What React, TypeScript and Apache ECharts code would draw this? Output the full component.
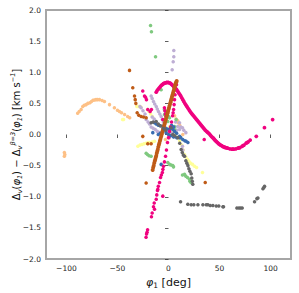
import React, { useEffect, useRef } from "react";
import * as echarts from "echarts";

// Accent palette colours per stream
const orangePts: number[][] = [
  [-102, -0.29], [-102, -0.35], [-101.5, -0.32],
  [-89, 0.34], [-87.5, 0.37], [-85.6, 0.4], [-84, 0.45], [-82.5, 0.47], [-80.7, 0.48], [-79, 0.5], [-77, 0.51],
  [-75.5, 0.53], [-74, 0.55], [-72.5, 0.555], [-71, 0.56], [-69.5, 0.56], [-67.6, 0.56], [-65, 0.545], [-62.7, 0.53],
  [-57.8, 0.48], [-53, 0.43], [-50, 0.39], [-48, 0.37], [-46, 0.35], [-43, 0.32], [-40, 0.29], [-38, 0.27],
  [6, 0.3], [7.5, 0.25], [9.1, 0.22], [9.5, 0.19], [11, 0.15], [2, 0.02], [-3, -0.08], [14, 0.0],
];

const yellowPts: number[][] = [
  [-45, 0.24], [-44, 0.24], [-31, 0.45], [-29.5, 0.45], [-28, 0.45], [-27, 0.44],
  [-20.6, 0.4], [-19, 0.37], [-17.5, 0.33], [-15.7, 0.29],
  [-30, -0.19], [-28, -0.17], [-26, -0.16], [-24, -0.15], [-22, -0.14], [-20, -0.13], [-18.6, -0.13], [-16, -0.12], [-13.7, -0.11],
  [1, 0.13], [3, 0.1], [5, 0.05], [7, 0.0], [9, -0.05], [11, -0.1], [13, -0.17], [14.5, -0.25], [15.7, -0.32],
  [17, -0.36], [18.6, -0.4], [20, -0.43], [21.5, -0.46], [23.5, -0.48], [25.5, -0.51], [27.5, -0.53], [33.3, -0.61],
];

const purplePts: number[][] = [
  [5.2, 1.35], [5.2, 1.25], [4.6, 1.17], [3.6, 1.04],
  [-17, 0.62], [-16, 0.58], [-14.7, 0.53], [-13.5, 0.49], [-12, 0.45], [-11, 0.41], [-9.8, 0.37], [-8.5, 0.33],
  [-7.2, 0.29], [-6, 0.24], [-5, 0.2], [-4, 0.16], [-3, 0.11], [-2.3, 0.05],
  [-28, 0.45], [-26.8, 0.43], [-25, 0.38], [-23, 0.33], [-21.9, 0.24], [-20, 0.2], [-18.6, 0.17],
  [-17, 0.12], [-15, 0.1], [-13, 0.08], [-11, 0.05], [-9, 0.03], [1, -0.05], [3, 0.02], [6, 0.05], [8, 0.07],
  [10.8, 0.08], [10.8, 0.19], [9, 0.13], [7, 0.2], [12, 0.12], [13.7, 0.11], [15, 0.07], [17, 0.03],
  [13.7, -0.19], [14, -0.25], [15.7, -0.35], [-16, 0.28], [-14, 0.25],
];

const greenPts: number[][] = [
  [-17.6, 1.75], [-16.7, 1.65], [-12.7, 1.25], [-7.2, 0.72],
  [-4, 0.4], [-3, 0.37], [-2, 0.34], [-1, 0.31], [0, 0.29], [1, 0.27],
  [-3.9, 0.32], [-0.7, 0.21], [5.9, 0.13], [5.9, 0.08], [4, 0.1], [7.5, 0.24],
  [-21.9, -0.3], [-20.6, -0.32], [-19, -0.34], [-17, -0.35],
  [-0.7, -0.45], [1, -0.48], [2.5, -0.49], [4.2, -0.5], [4.9, -0.52],
  [13.7, -0.65], [15.7, -0.64], [17, -0.67], [18.6, -0.69], [20.6, -0.72], [21, -0.75], [22, -0.77],
];

const bluePts: number[][] = [
  [-15.4, 0.03], [-13.7, 0.19], [-12, 0.17], [-10, 0.15], [-8, 0.14], [-5.6, 0.13], [-3, 0.1], [-1, 0.09],
  [1, 0.08], [4.2, 0.08], [6, 0.05], [8, 0.02], [10.8, -0.03], [12, -0.05], [14, -0.08], [16, -0.1],
  [17.3, -0.11], [19, -0.13], [-7.2, -0.48], [-2.3, 0.03], [0, 0.0], [2, -0.02], [5, -0.04], [8, -0.05],
  [10.8, -0.05], [-10, 0.0], [-8, 0.02], [3, 0.15], [5, 0.12],
];

const pinkCurve: number[][] = [
  [-12, 0.68], [-11, 0.71], [-10, 0.73], [-9, 0.75], [-8, 0.77], [-7, 0.79], [-6, 0.8], [-5, 0.815], [-4, 0.825],
  [-3, 0.83], [-2, 0.835], [-1, 0.838], [0, 0.835], [1, 0.83], [2, 0.82], [3, 0.805], [4, 0.79], [5, 0.775],
  [6, 0.76], [7, 0.74], [8, 0.72], [9, 0.695], [10, 0.67], [11, 0.645], [12, 0.62], [13, 0.59], [14, 0.56],
  [15, 0.53], [16, 0.5], [17, 0.475], [18, 0.45], [19, 0.425], [20, 0.4], [21, 0.375], [22, 0.35], [23, 0.33],
  [24, 0.31], [25, 0.29], [26, 0.27], [27, 0.25], [28, 0.23], [29, 0.21], [30, 0.19], [31, 0.17], [32, 0.15],
  [33, 0.13], [34, 0.11], [35, 0.09], [36, 0.07], [37, 0.055], [38, 0.04], [39, 0.025], [40, 0.01], [41, -0.01],
  [42, -0.03], [43, -0.045], [44, -0.06], [45, -0.08], [46, -0.1], [47, -0.115], [48, -0.13], [49, -0.145],
  [50, -0.16], [51, -0.17], [52, -0.18], [53, -0.19], [54, -0.2], [55, -0.205], [56, -0.21], [57, -0.215],
  [58, -0.22], [60, -0.23], [62, -0.235], [63, -0.235], [64, -0.235], [66, -0.23], [68, -0.22], [69, -0.215],
  [70, -0.21], [72, -0.19], [73, -0.18], [74, -0.17], [76, -0.14], [77, -0.13], [78, -0.12], [80, -0.09],
  [86, -0.03], [94, 0.11], [102, 0.24],
];

const pinkStream: number[][] = [
  [-22, -1.65], [-21.5, -1.6], [-21, -1.57], [-20.5, -1.53],
  [-16.7, -1.32], [-16, -1.26], [-14.7, -1.16], [-14, -1.1], [-13.7, -1.2], [-12, -1.04], [-11.5, -0.97],
  [-10.8, -0.9], [-10.5, -0.88], [-10, -0.83], [-8.8, -0.77], [-7.8, -0.69], [-7, -0.65], [-6, -0.61],
  [-5.6, -0.99], [-5.5, -0.56], [-4.9, -0.51], [-4, -0.44], [-2.9, -0.35], [-2, -0.25], [-1, -0.13],
  [0, -0.05], [1, 0.05], [2, 0.12], [3, 0.2], [4, 0.3], [4.5, 0.35], [5, 0.4], [5.5, 0.48], [5.9, 0.56],
  [6.4, 0.64], [6.9, 0.72], [7.8, 0.8],
  [-25.2, 0.7], [-23.5, 0.62], [-22.5, 0.6], [-21.6, 0.56], [-20.3, 0.4], [-18, 0.37], [-16.7, 0.4],
  [-5.6, 0.24], [-4, 0.43], [-3.5, 0.38], [-3, 0.33], [-2.5, 0.29], [35, -0.08],
];

const brownLine: number[][] = [
  [-15.5, -0.57], [-15, -0.53], [-14.5, -0.5], [-14, -0.46], [-13.5, -0.43], [-13, -0.4], [-12.5, -0.37],
  [-12, -0.34], [-11.5, -0.3], [-11, -0.27], [-10.5, -0.24], [-10, -0.2], [-9.5, -0.17], [-9, -0.14],
  [-8.5, -0.11], [-8, -0.08], [-7.5, -0.05], [-7, -0.02], [-6.5, 0.01], [-6, 0.04], [-5.5, 0.07], [-5, 0.1],
  [-4.5, 0.13], [-4, 0.16], [-3.5, 0.19], [-3, 0.22], [-2.5, 0.25], [-2, 0.28], [-1.5, 0.31], [-1, 0.34],
  [-0.5, 0.37], [0, 0.4], [0.5, 0.43], [1, 0.46], [1.5, 0.49], [2, 0.52], [2.5, 0.55], [3, 0.58], [3.5, 0.61],
  [4, 0.64], [4.5, 0.67], [5, 0.7], [5.5, 0.73], [6, 0.76], [6.5, 0.79], [7, 0.82], [7.5, 0.84], [8, 0.86],
];

const brownPts: number[][] = [
  [-38.2, 1.03], [-35, 0.75], [-33.3, 0.62], [-32.6, 0.56], [-32, 0.5], [-30.7, 0.35], [-29.1, 0.31],
  [-26.8, 0.29], [-24.5, 0.28], [-21.9, 0.27], [-25.2, -0.03], [-20.3, -0.15], [-17, -0.15],
  [-21.9, -0.78], [36, -0.77],
];

const grayPts: number[][] = [
  [-17, 0.19], [-15, 0.2], [-12, 0.21], [-10, 0.17], [-8, 0.14], [-5, 0.1], [-3, 0.07], [2.6, 0.11],
  [4.2, 0.0], [6, -0.02], [9.1, -0.05], [11, -0.14], [12.4, -0.24], [13.5, -0.29], [14.5, -0.33],
  [15.7, -0.35], [17, -0.42], [18, -0.46], [19, -0.5], [20, -0.55], [21, -0.59], [22.2, -0.63],
  [22.8, -0.7], [23.3, -0.75], [23.8, -0.8],
  [11.8, -1.08], [18.9, -1.12], [22.2, -1.13], [24.8, -1.13], [28.8, -1.13], [33.7, -1.13], [37, -1.13],
  [38.6, -1.13], [40.9, -1.14], [43.5, -1.14], [46.8, -1.15], [49.3, -1.15], [53.3, -1.16], [53.9, -1.16],
  [67, -1.18], [69, -1.18], [70.6, -1.18], [72.2, -1.18], [84.3, -1.08], [86.6, -1.03], [87.6, -1.02],
  [92.5, -0.87], [93.4, -0.85], [94.1, -0.83],
];

const xTicks = [-100, -50, 0, 50, 100];
const yMin = -2;
const yMax = 2;
const yStep = 0.5;
const yTitle = "{m|Δ}{s|v}{m|(}{i|φ}{s|1}{m|) − Δ}{s|v}{p|β=3}{m|(}{i|φ}{s|1}{m|) [km s}{p|−1}{m|]}";
const xTitle = "{i|φ}{s|1}{m| [deg]}";

const fmt = (v: number, d: number) => v.toFixed(d).replace("-", "\u2212");

export default function App() {
  const ref = useRef<HTMLDivElement>(null);
  useEffect(() => {
    if (!ref.current) return;
    const chart = echarts.init(ref.current, null, { renderer: "svg" });
    const font = "DejaVu Sans";
    const mk = (data: number[][], color: string, size = 3.5) => ({
      type: "scatter",
      data,
      symbol: "circle",
      symbolSize: size,
      itemStyle: { color, opacity: 1 },
      silent: true,
    });
    const richY = {
      m: { fontSize: 10, fontFamily: font, fill: "#111", lineHeight: 14, verticalAlign: "middle" },
      i: { fontSize: 10, fontFamily: font, fontStyle: "italic", fill: "#111", lineHeight: 14, verticalAlign: "middle" },
      s: { fontSize: 6.5, fontFamily: font, fontStyle: "italic", fill: "#111", lineHeight: 7, verticalAlign: "bottom" },
      p: { fontSize: 6.5, fontFamily: font, fontStyle: "italic", fill: "#111", lineHeight: 7, verticalAlign: "top" },
    };
    chart.setOption({
      animation: false,
      backgroundColor: "#fff",
      textStyle: { fontFamily: font },
      grid: {
        left: 46, right: 8, top: 10, bottom: 34,
        show: true, borderColor: "#a6a6a6", borderWidth: 2, backgroundColor: "transparent",
        outerBoundsMode: "none",
      },
      graphic: [
        {
          type: "text",
          x: 16,
          y: 134.5,
          rotation: Math.PI / 2,
          silent: true,
          style: { text: yTitle, rich: richY, align: "center", verticalAlign: "middle", fill: "#111", font: `10px ${font}` },
        },
      ],
      xAxis: {
        type: "value", min: -120, max: 120,
        splitLine: { show: false },
        axisLine: { show: false },
        axisTick: { show: true, length: 3.5, lineStyle: { color: "#333", width: 0.8 }, customValues: xTicks },
        axisLabel: { color: "#222", fontSize: 7.5, fontFamily: font, margin: 5, customValues: xTicks, formatter: (v: number) => fmt(v, 0) },
        name: xTitle,
        nameLocation: "middle",
        nameGap: 10,
        nameTextStyle: {
          fontSize: 11, color: "#111", fontFamily: font,
          rich: {
            m: { fontSize: 11, lineHeight: 15, verticalAlign: "middle", fontFamily: font, color: "#111" },
            i: { fontSize: 11, lineHeight: 15, verticalAlign: "middle", fontStyle: "italic", fontFamily: font, color: "#111" },
            s: { fontSize: 7.5, lineHeight: 7, verticalAlign: "bottom", fontFamily: font, color: "#111" },
          },
        },
      },
      yAxis: {
        type: "value", min: yMin, max: yMax, interval: yStep,
        splitLine: { show: false },
        axisLine: { show: false },
        axisTick: { show: true, length: 3.5, lineStyle: { color: "#333", width: 0.8 } },
        axisLabel: { color: "#222", fontSize: 7.5, fontFamily: font, margin: 5, formatter: (v: number) => fmt(v, 1) },
      },
      series: [
        mk(orangePts, "#fdc086"),
        mk(yellowPts, "#ffff99"),
        mk(purplePts, "#beaed4"),
        mk(greenPts, "#7fc97f"),
        mk(bluePts, "#386cb0"),
        mk(pinkCurve, "#f0027f", 3.8),
        mk(pinkStream, "#f0027f"),
        mk(brownLine, "#bf5b17", 4),
        mk(brownPts, "#bf5b17"),
        mk(grayPts, "#666666"),
      ],
    });
    return () => chart.dispose();
  }, []);
  return <div ref={ref} style={{ position: "fixed", left: 0, top: 0, width: 299, height: 293 }} />;
}
